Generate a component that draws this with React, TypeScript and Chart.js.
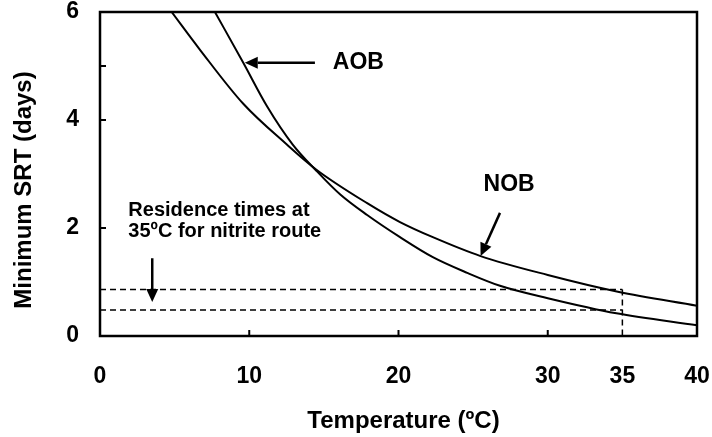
import { useEffect, useRef } from "react";
import { Chart, registerables } from "chart.js";

Chart.register(...registerables);

const FONT = "'Liberation Sans', Arial, Helvetica, sans-serif";

// Axis tick values
const xTickValues = [0, 10, 20, 30, 35, 40];
const yTickValues = [0, 2, 4, 6];
const xInnerTicks = [10, 20, 30];
const yInnerTicks = [2, 4, 5];

// Minimum SRT (days) vs temperature (ºC)
const aobTemps = [7.7, 9.6, 11.2, 12.9, 14.5, 16.1, 17.9, 20.1, 22.3, 24.6, 26.8, 30, 34.6, 40];
const aobSrt = [6, 5.06, 4.25, 3.55, 3.06, 2.62, 2.24, 1.83, 1.46, 1.17, 0.93, 0.7, 0.42, 0.2];
const nobTemps = [4.8, 6.7, 9.6, 12.5, 14.5, 17.9, 20.1, 22.3, 25.5, 30, 34.7, 40];
const nobSrt = [6, 5.3, 4.3, 3.55, 3.08, 2.46, 2.11, 1.83, 1.48, 1.13, 0.82, 0.56];

// Residence times at 35ºC (dashed guides)
const residenceTemp = 35;
const residenceSrt = [0.86, 0.48];

// Annotation anchors in data units
const aobLabel = { x: 15.6, y: 5.07, text: "AOB" };
const aobArrow = { from: [14.4, 5.06], to: [9.7, 5.06] };
const nobLabel = { x: 25.7, y: 2.8, text: "NOB" };
const nobArrow = { from: [26.8, 2.28], to: [25.5, 1.48] };
const noteLines = ["Residence times at", "35ºC for nitrite route"];
const noteAnchor = { x: 1.9, y: [2.33, 1.93] };
const noteArrow = { from: [3.5, 1.44], to: [3.5, 0.63] };

const xTitle = "Temperature (ºC)";
const yTitle = "Minimum SRT (days)";

function arrow(ctx: CanvasRenderingContext2D, x1: number, y1: number, x2: number, y2: number) {
  const ang = Math.atan2(y2 - y1, x2 - x1);
  const head = 13;
  const half = 6;
  const bx = x2 - head * Math.cos(ang);
  const by = y2 - head * Math.sin(ang);
  ctx.beginPath();
  ctx.moveTo(x1, y1);
  ctx.lineTo(bx, by);
  ctx.stroke();
  ctx.beginPath();
  ctx.moveTo(x2, y2);
  ctx.lineTo(bx + half * Math.sin(ang), by - half * Math.cos(ang));
  ctx.lineTo(bx - half * Math.sin(ang), by + half * Math.cos(ang));
  ctx.closePath();
  ctx.fill();
}

const decorations = {
  id: "decorations",
  afterDatasetsDraw(chart: any) {
    const { ctx, chartArea: a, scales } = chart;
    const xs = scales.x;
    const ys = scales.y;
    const px = (v: number) => xs.getPixelForValue(v);
    const py = (v: number) => ys.getPixelForValue(v);
    ctx.save();
    ctx.strokeStyle = "#000";
    ctx.fillStyle = "#000";

    // dashed residence-time guides
    ctx.lineWidth = 1.5;
    ctx.setLineDash([6, 4]);
    residenceSrt.forEach((v) => {
      ctx.beginPath();
      ctx.moveTo(px(0), py(v));
      ctx.lineTo(px(residenceTemp), py(v));
      ctx.stroke();
    });
    ctx.beginPath();
    ctx.moveTo(px(residenceTemp), py(Math.max(...residenceSrt)));
    ctx.lineTo(px(residenceTemp), py(0));
    ctx.stroke();
    ctx.setLineDash([]);

    // frame
    ctx.lineWidth = 2.5;
    ctx.strokeRect(a.left, a.top, a.right - a.left, a.bottom - a.top);

    // inward tick marks
    ctx.lineWidth = 2;
    xInnerTicks.forEach((v) => {
      ctx.beginPath();
      ctx.moveTo(px(v), a.bottom);
      ctx.lineTo(px(v), a.bottom - 6);
      ctx.stroke();
    });
    yInnerTicks.forEach((v) => {
      ctx.beginPath();
      ctx.moveTo(a.left, py(v));
      ctx.lineTo(a.left + 6, py(v));
      ctx.stroke();
    });

    // arrows
    ctx.lineWidth = 2.5;
    arrow(ctx, px(aobArrow.from[0]), py(aobArrow.from[1]), px(aobArrow.to[0]), py(aobArrow.to[1]));
    arrow(ctx, px(nobArrow.from[0]), py(nobArrow.from[1]), px(nobArrow.to[0]), py(nobArrow.to[1]));
    arrow(ctx, px(noteArrow.from[0]), py(noteArrow.from[1]), px(noteArrow.to[0]), py(noteArrow.to[1]));

    // labels
    ctx.textAlign = "left";
    ctx.textBaseline = "middle";
    ctx.font = `bold 23px ${FONT}`;
    ctx.fillText(aobLabel.text, px(aobLabel.x), py(aobLabel.y));
    ctx.fillText(nobLabel.text, px(nobLabel.x), py(nobLabel.y));
    ctx.font = `bold 20px ${FONT}`;
    noteLines.forEach((t, i) => ctx.fillText(t, px(noteAnchor.x), py(noteAnchor.y[i])));

    // axis titles
    ctx.font = `bold 24px ${FONT}`;
    ctx.textAlign = "center";
    ctx.fillText(xTitle, (a.left + a.right) / 2 + 5, 421);
    ctx.translate(24, 190);
    ctx.rotate(-Math.PI / 2);
    ctx.fillText(yTitle, 0, 0);
    ctx.restore();
  },
};

// keep label overhang from shrinking the plot area
function noOverhang(s: any) {
  s.paddingTop = 0;
  s.paddingBottom = 0;
  s.paddingLeft = 0;
  s.paddingRight = 0;
}

export default function App() {
  const ref = useRef<HTMLCanvasElement | null>(null);

  useEffect(() => {
    if (!ref.current) return;
    const chart = new Chart(ref.current, {
      type: "line",
      data: {
        datasets: [
          {
            label: "AOB",
            data: aobTemps.map((t, i) => ({ x: t, y: aobSrt[i] })),
            borderColor: "#000",
            borderWidth: 2,
            pointRadius: 0,
            cubicInterpolationMode: "monotone",
            fill: false,
          },
          {
            label: "NOB",
            data: nobTemps.map((t, i) => ({ x: t, y: nobSrt[i] })),
            borderColor: "#000",
            borderWidth: 2,
            pointRadius: 0,
            cubicInterpolationMode: "monotone",
            fill: false,
          },
        ],
      },
      options: {
        responsive: false,
        animation: false,
        devicePixelRatio: 1,
        layout: { padding: { left: 0, right: 15, top: 12, bottom: 0 } },
        plugins: { legend: { display: false }, tooltip: { enabled: false } },
        scales: {
          x: {
            type: "linear",
            min: 0,
            max: 40,
            grid: { display: false, drawTicks: false },
            border: { display: false },
            afterBuildTicks: (s: any) => {
              s.ticks = xTickValues.map((v) => ({ value: v }));
            },
            afterFit: (s: any) => {
              s.height = 101;
              noOverhang(s);
            },
            ticks: {
              autoSkip: false,
              maxRotation: 0,
              padding: 27,
              color: "#000",
              font: { family: FONT, size: 23, weight: "bold" },
            },
          },
          y: {
            type: "linear",
            min: 0,
            max: 6,
            grid: { display: false, drawTicks: false },
            border: { display: false },
            afterBuildTicks: (s: any) => {
              s.ticks = yTickValues.map((v) => ({ value: v }));
            },
            afterFit: (s: any) => {
              s.width = 100;
              noOverhang(s);
            },
            ticks: {
              padding: 21,
              color: "#000",
              font: { family: FONT, size: 23, weight: "bold" },
            },
          },
        },
      },
      plugins: [decorations],
    });
    return () => chart.destroy();
  }, []);

  return (
    <div style={{ position: "absolute", left: 0, top: 0, width: 712, height: 437, background: "#fff" }}>
      <canvas ref={ref} width={712} height={437} />
    </div>
  );
}
